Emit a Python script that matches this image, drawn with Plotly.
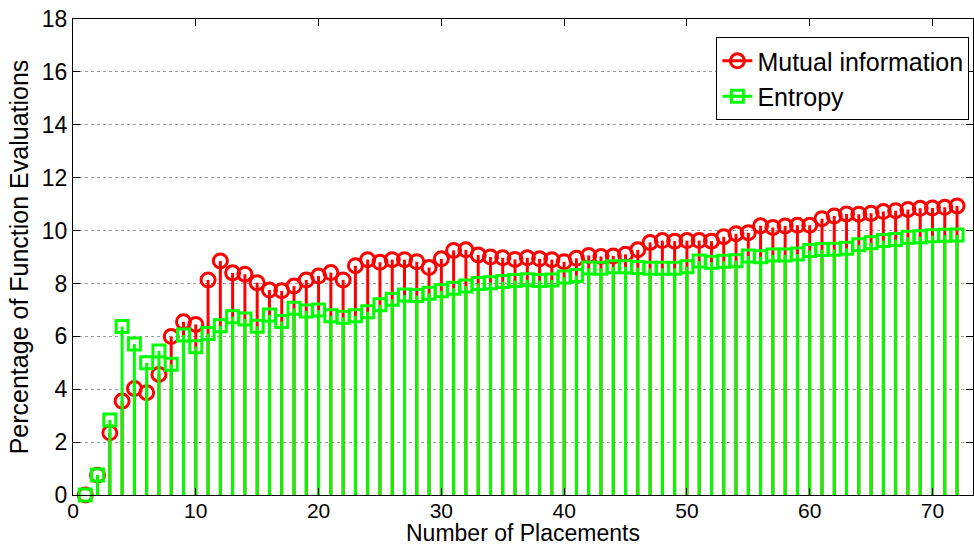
import plotly.graph_objects as go

placements = list(range(1, 73))

mutual_info = [0.0, 0.75, 2.35, 3.55, 4.03, 3.87, 4.56, 5.99, 6.55, 6.45,
               8.13, 8.85, 8.40, 8.35, 8.03, 7.75, 7.72, 7.90, 8.13, 8.28,
               8.41, 8.13, 8.67, 8.90, 8.80, 8.90, 8.90, 8.82, 8.60, 8.93,
               9.25, 9.27, 9.08, 9.00, 8.97, 8.91, 8.97, 8.93, 8.90, 8.82,
               8.95, 9.06, 9.02, 9.04, 9.10, 9.27, 9.55, 9.62, 9.60, 9.62,
               9.62, 9.60, 9.77, 9.88, 9.92, 10.18, 10.12, 10.17, 10.20, 10.20,
               10.45, 10.55, 10.63, 10.62, 10.65, 10.72, 10.75, 10.80, 10.84, 10.85,
               10.88, 10.93]

entropy = [0.0, 0.76, 2.84, 6.37, 5.71, 5.00, 5.45, 4.94, 6.05, 5.61,
           6.11, 6.40, 6.74, 6.66, 6.38, 6.81, 6.56, 7.06, 6.96, 7.00,
           6.78, 6.72, 6.78, 6.93, 7.19, 7.40, 7.56, 7.54, 7.63, 7.72,
           7.82, 7.90, 8.00, 8.03, 8.07, 8.11, 8.14, 8.11, 8.13, 8.24,
           8.30, 8.58, 8.57, 8.63, 8.63, 8.60, 8.57, 8.57, 8.57, 8.63,
           8.85, 8.80, 8.84, 8.86, 9.04, 9.01, 9.08, 9.08, 9.11, 9.25,
           9.28, 9.29, 9.33, 9.46, 9.54, 9.62, 9.66, 9.75, 9.77, 9.80,
           9.82, 9.83]

x_ticks = [0, 10, 20, 30, 40, 50, 60, 70]
y_ticks = [0, 2, 4, 6, 8, 10, 12, 14, 16, 18]

RED = "#FF0000"
GREEN = "#00FF00"
FONT = "Liberation Sans, Arial, Helvetica, sans-serif"


def stems(xs, ys):
    sx, sy = [], []
    for x, y in zip(xs, ys):
        sx += [x, x, None]
        sy += [0, y, None]
    return sx, sy


fig = go.Figure()

rx, ry = stems(placements, mutual_info)
fig.add_trace(go.Scatter(x=rx, y=ry, mode="lines", line=dict(color=RED, width=3),
                         showlegend=False, hoverinfo="skip", cliponaxis=False))
fig.add_trace(go.Scatter(x=placements, y=mutual_info, mode="markers",
                         name="Mutual information", showlegend=False,
                         marker=dict(symbol="circle-open", size=14, color=RED,
                                     line=dict(color=RED, width=3)),
                         cliponaxis=False))
gx, gy = stems(placements, entropy)
fig.add_trace(go.Scatter(x=gx, y=gy, mode="lines", line=dict(color=GREEN, width=3),
                         showlegend=False, hoverinfo="skip", cliponaxis=False))
fig.add_trace(go.Scatter(x=placements, y=entropy, mode="markers",
                         name="Entropy", showlegend=False,
                         marker=dict(symbol="square-open", size=12, color=GREEN,
                                     line=dict(color=GREEN, width=3)),
                         cliponaxis=False))

# legend entries (line + marker, as in the stem legend)
fig.add_trace(go.Scatter(x=[None], y=[None], mode="lines+markers",
                         name="Mutual information",
                         line=dict(color=RED, width=3),
                         marker=dict(symbol="circle-open", size=14, color=RED,
                                     line=dict(color=RED, width=3))))
fig.add_trace(go.Scatter(x=[None], y=[None], mode="lines+markers",
                         name="Entropy",
                         line=dict(color=GREEN, width=3),
                         marker=dict(symbol="square-open", size=12, color=GREEN,
                                     line=dict(color=GREEN, width=3))))

fig.add_annotation(text="Number of Placements", xref="paper", yref="paper",
                   x=0.5, y=-0.109, xanchor="center", yanchor="bottom",
                   showarrow=False, borderpad=0,
                   font=dict(size=23, family=FONT, color="black"))

fig.update_layout(
    width=974, height=547,
    margin=dict(l=73, r=1, t=19, b=52),
    paper_bgcolor="white", plot_bgcolor="white",
    font=dict(family=FONT, size=23, color="black"),
    showlegend=True,
    legend=dict(x=0.996, y=0.962, xanchor="right", yanchor="top",
                bgcolor="white", bordercolor="black", borderwidth=1,
                font=dict(size=25, family=FONT), itemwidth=30,
                tracegroupgap=0),
    xaxis=dict(range=[0, 73.3], tickvals=x_ticks, showgrid=False, zeroline=False,
               showline=True, linecolor="black", linewidth=1, mirror="ticks",
               ticks="inside", ticklen=7, tickcolor="black",
               ticklabelstandoff=-3,
               tickfont=dict(size=21)),
    yaxis=dict(range=[0, 18], tickvals=y_ticks, showgrid=True, gridcolor="#9a9a9a",
               griddash="dot", gridwidth=1, zeroline=False,
               showline=True, linecolor="black", linewidth=1, mirror="ticks",
               ticks="inside", ticklen=7, tickcolor="black",
               tickfont=dict(size=23),
               title=dict(text="Percentage of Function Evaluations", font=dict(size=25), standoff=6)),
)

fig.write_html("out.html")
